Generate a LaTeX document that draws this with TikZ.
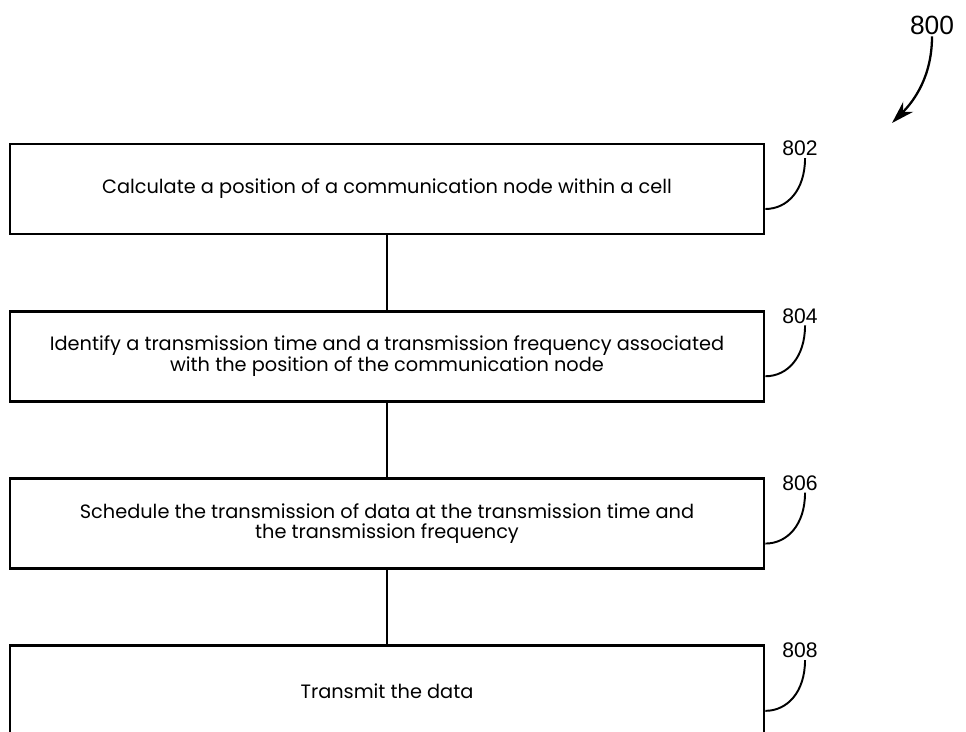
\documentclass[tikz,border=0pt]{standalone}
\usepackage{fontspec}
\setmainfont{Poppins}
\newfontfamily\numfont{Liberation Sans}
\usepackage{tikz}
\usetikzlibrary{positioning,arrows.meta}

\begin{document}
\begin{tikzpicture}[x=0.02cm,y=-0.02cm,
  stepbox/.style={draw, line width=1.6pt, minimum width=15.08cm, minimum height=1.8cm,
    inner sep=0pt, align=center, font=\fontsize{11}{11.2}\selectfont},
  reflabel/.style={inner sep=1pt, font=\numfont\fontsize{12}{12}\selectfont},
  leader/.style={line width=1.1pt},
  link/.style={line width=1.3pt}]
\useasboundingbox (0,0) rectangle (966,732);

% Steps
\node[stepbox] (b1) at (387,189) {Calculate a position of a communication node within a cell};
\node[stepbox, below=1.49cm of b1] (b2) {Identify a transmission time and a transmission frequency associated\\with the position of the communication node};
\node[stepbox, below=1.49cm of b2] (b3) {Schedule the transmission of data at the transmission time and\\the transmission frequency};
\node[stepbox, below=1.49cm of b3] (b4) {Transmit the data};

% Links
\draw[link] (b1) -- (b2);
\draw[link] (b2) -- (b3);
\draw[link] (b3) -- (b4);

% Reference numerals
\foreach \n/\t in {1/802, 2/804, 3/806, 4/808} {
  \node[reflabel, anchor=west] (l\n) at ([shift={(15,6)}]b\n.north east) {\t};
  \draw[leader] ([shift={(5,0)}]l\n.south) .. controls +(0,32) and +(22,0) .. ([shift={(0,20)}]b\n.east);
}

% Figure number
\node[reflabel, font=\numfont\fontsize{15}{15}\selectfont] (l0) at (932,25) {800};
\coordinate (c0) at (892,123);
\draw[leader, line width=1.3pt, -{Stealth[length=13pt,width=8pt]}] (l0.south) .. controls +(0,40) and +(22,-22) .. (c0);
\end{tikzpicture}
\end{document}
